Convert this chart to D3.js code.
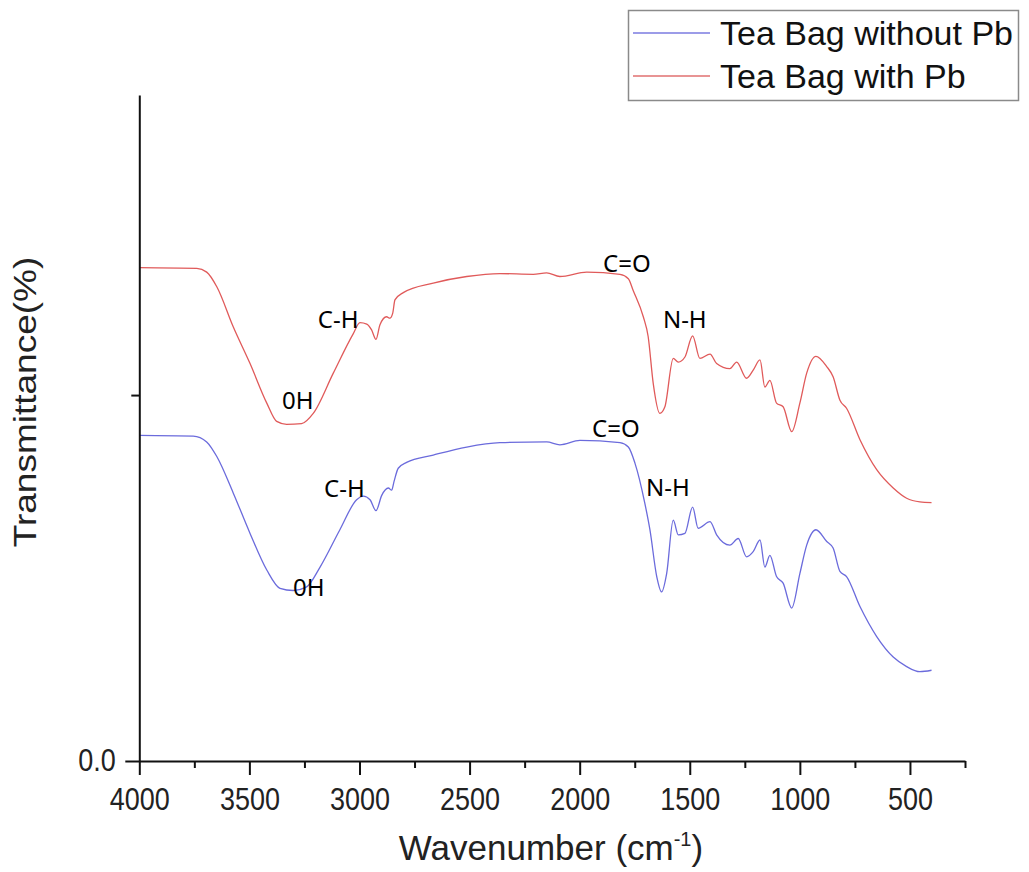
<!DOCTYPE html>
<html>
<head>
<meta charset="utf-8">
<script src="https://cdn.jsdelivr.net/npm/d3@7"></script>
<style>
  html, body { margin: 0; padding: 0; background: #fff; }
  svg { display: block; }
</style>
</head>
<body>
<svg id="chart" width="1029" height="872"></svg>
<script>
// ---------------- DATA ----------------
const seriesNames = ["Tea Bag without Pb", "Tea Bag with Pb"];

// Tea Bag with Pb (red)
const redWn = [4000, 3739, 3694, 3648, 3573, 3497, 3421, 3376, 3331, 3263, 3210, 3119, 3028, 2998, 2967, 2945, 2925, 2907, 2877, 2862, 2849, 2839, 2801, 2665, 2513, 2362, 2211, 2150, 2090, 1968, 1817, 1779, 1757, 1711, 1689, 1666, 1636, 1613, 1575, 1552, 1522, 1487, 1454, 1408, 1378, 1318, 1287, 1242, 1212, 1181, 1159, 1136, 1106, 1076, 1037, 1000, 969, 927, 878, 849, 818, 788, 727, 651, 576, 515, 455, 402];
const redT = [0.674, 0.673, 0.668, 0.648, 0.593, 0.543, 0.489, 0.464, 0.460, 0.461, 0.475, 0.530, 0.584, 0.599, 0.597, 0.589, 0.576, 0.596, 0.607, 0.605, 0.612, 0.630, 0.640, 0.653, 0.662, 0.666, 0.665, 0.667, 0.662, 0.668, 0.665, 0.659, 0.643, 0.607, 0.580, 0.516, 0.475, 0.484, 0.550, 0.545, 0.552, 0.581, 0.550, 0.556, 0.543, 0.536, 0.545, 0.523, 0.534, 0.548, 0.511, 0.520, 0.489, 0.484, 0.450, 0.489, 0.530, 0.553, 0.539, 0.525, 0.493, 0.482, 0.439, 0.398, 0.373, 0.359, 0.354, 0.353];

// Tea Bag without Pb (blue)
const blueWn = [4000, 3755, 3694, 3648, 3573, 3497, 3421, 3361, 3301, 3240, 3179, 3089, 3013, 2983, 2952, 2925, 2899, 2869, 2854, 2843, 2824, 2786, 2665, 2513, 2362, 2150, 2090, 1999, 1817, 1779, 1749, 1704, 1681, 1650, 1628, 1605, 1575, 1552, 1522, 1487, 1462, 1408, 1378, 1318, 1280, 1242, 1212, 1181, 1159, 1136, 1106, 1076, 1037, 1000, 969, 927, 878, 849, 818, 788, 727, 651, 576, 515, 455, 402];
const blueT = [0.445, 0.444, 0.436, 0.416, 0.366, 0.311, 0.261, 0.236, 0.233, 0.238, 0.265, 0.316, 0.357, 0.362, 0.357, 0.342, 0.363, 0.373, 0.370, 0.382, 0.400, 0.408, 0.418, 0.429, 0.435, 0.436, 0.432, 0.438, 0.435, 0.429, 0.407, 0.352, 0.316, 0.252, 0.231, 0.256, 0.329, 0.309, 0.311, 0.347, 0.318, 0.327, 0.309, 0.295, 0.304, 0.279, 0.286, 0.302, 0.265, 0.281, 0.252, 0.243, 0.209, 0.256, 0.295, 0.316, 0.300, 0.291, 0.259, 0.252, 0.211, 0.170, 0.142, 0.129, 0.122, 0.124];

// Axis ticks
const xMajorTicks = [4000, 3500, 3000, 2500, 2000, 1500, 1000, 500];
const xMinorTicks = [3750, 3250, 2750, 2250, 1750, 1250, 750, 250];
const yMajorTicks = [0];
const yMinorTicks = [0.5];

// Peak annotations (left/baseline anchor in data coordinates)
const annLabels = ["C=O", "N-H", "C-H", "0H", "C=O", "N-H", "C-H", "0H"];
const annWn =     [1894, 1622, 3189, 3352, 1944, 1699, 3161, 3302];
const annT =      [0.668, 0.592, 0.592, 0.481, 0.443, 0.362, 0.361, 0.225];

// ---------------- CHART ----------------
const svg = d3.select("#chart");
const x = d3.scaleLinear().domain([4000, 250]).range([139.3, 965]);
const y = d3.scaleLinear().domain([0, 0.91]).range([761, 95]);

const axisFont = "'Liberation Sans', Arial, sans-serif";

// Lines
const line = d3.line().x(d => x(d[0])).y(d => y(d[1])).curve(d3.curveMonotoneX);
const redData = redWn.map((w, i) => [w, redT[i]]);
const blueData = blueWn.map((w, i) => [w, blueT[i]]);

svg.append("path").datum(redData)
  .attr("d", line).attr("fill", "none")
  .attr("stroke", "#e05a5a").attr("stroke-width", 1.3);
svg.append("path").datum(blueData)
  .attr("d", line).attr("fill", "none")
  .attr("stroke", "#6b6bdc").attr("stroke-width", 1.3);

// X axis
const gx = svg.append("g").attr("transform", `translate(0,${y(0)})`)
  .call(d3.axisBottom(x).tickValues(xMajorTicks).tickSize(14).tickSizeOuter(0)
        .tickPadding(13).tickFormat(d3.format("d")));
gx.select(".domain").attr("stroke", "#111").attr("stroke-width", 2);
gx.selectAll(".tick line").attr("stroke", "#111").attr("stroke-width", 2);
gx.selectAll(".tick text").attr("font-family", axisFont).attr("font-size", 31)
  .attr("fill", "#222").attr("transform", "scale(0.87,1)");

const gxm = svg.append("g").attr("transform", `translate(0,${y(0)})`)
  .call(d3.axisBottom(x).tickValues(xMinorTicks).tickSize(7).tickSizeOuter(0).tickFormat(""));
gxm.select(".domain").remove();
gxm.selectAll(".tick line").attr("stroke", "#111").attr("stroke-width", 2);

// Y axis
const gy = svg.append("g").attr("transform", `translate(${x(4000)},0)`)
  .call(d3.axisLeft(y).tickValues(yMajorTicks).tickSize(14).tickSizeOuter(0)
        .tickPadding(13).tickFormat(d3.format(".1f")));
gy.select(".domain").attr("stroke", "#111").attr("stroke-width", 2);
gy.selectAll(".tick line").attr("stroke", "#111").attr("stroke-width", 2);
gy.selectAll(".tick text").attr("font-family", axisFont).attr("font-size", 31)
  .attr("fill", "#222").attr("transform", "scale(0.87,1)");

const gym = svg.append("g").attr("transform", `translate(${x(4000)},0)`)
  .call(d3.axisLeft(y).tickValues(yMinorTicks).tickSize(8).tickSizeOuter(0).tickFormat(""));
gym.select(".domain").remove();
gym.selectAll(".tick line").attr("stroke", "#111").attr("stroke-width", 2);

// Axis titles
const xt = svg.append("text").attr("x", 551).attr("y", 860)
  .attr("text-anchor", "middle").attr("font-family", axisFont)
  .attr("font-size", 35).attr("fill", "#222");
xt.append("tspan").text("Wavenumber (cm");
xt.append("tspan").attr("font-size", 20).attr("dy", -14).text("-1");
xt.append("tspan").attr("dy", 14).text(")");

svg.append("text")
  .attr("transform", "translate(36,402) rotate(-90) scale(1,0.85)")
  .attr("text-anchor", "middle").attr("font-family", axisFont)
  .attr("font-size", 37).attr("fill", "#222")
  .text("Transmittance(%)");

// Annotations
svg.selectAll("text.ann").data(annLabels).join("text")
  .attr("class", "ann")
  .attr("x", (d, i) => x(annWn[i])).attr("y", (d, i) => y(annT[i]))
  .attr("font-family", "'Noto Sans', sans-serif").attr("font-size", 24)
  .attr("fill", "#000").text(d => d);

// Legend
const lg = svg.append("g");
lg.append("rect").attr("x", 628.5).attr("y", 10.5).attr("width", 390).attr("height", 90)
  .attr("fill", "#fff").attr("stroke", "#8a8a8a").attr("stroke-width", 1.5);
const legendColors = ["#7b7be0", "#e07070"];
const legendY = [33, 76];
seriesNames.forEach((name, i) => {
  lg.append("line").attr("x1", 633).attr("x2", 710)
    .attr("y1", legendY[i]).attr("y2", legendY[i])
    .attr("stroke", legendColors[i]).attr("stroke-width", 1.5);
  lg.append("text").attr("x", 720).attr("y", legendY[i] + 12)
    .attr("font-family", axisFont).attr("font-size", 34).attr("fill", "#111")
    .text(name);
});
</script>
</body>
</html>
